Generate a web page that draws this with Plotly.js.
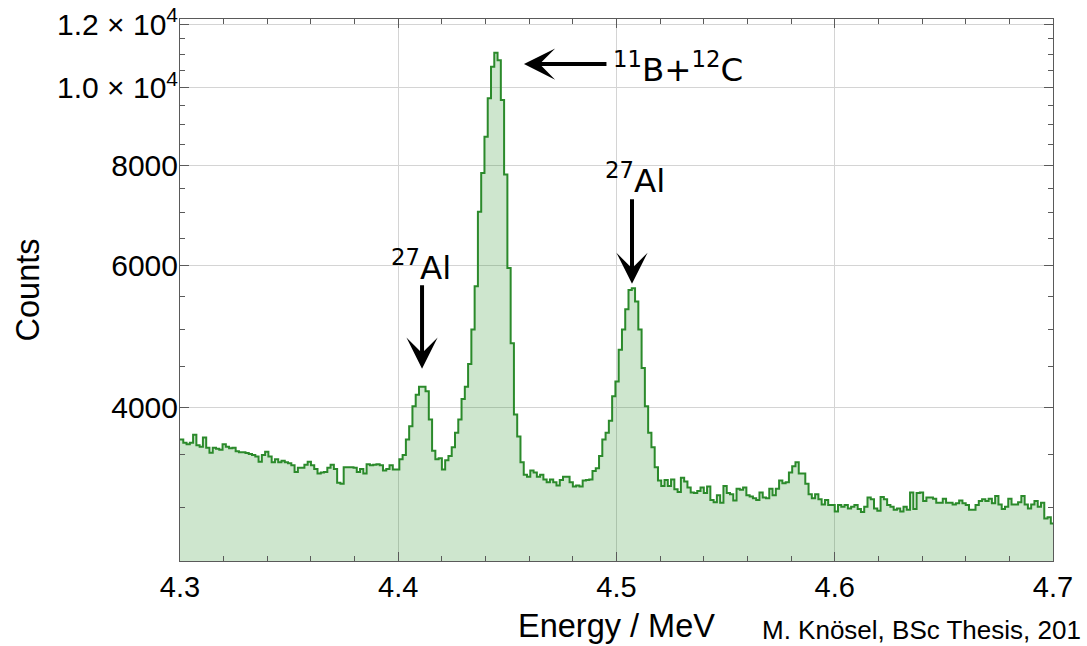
<!DOCTYPE html>
<html><head><meta charset="utf-8">
<script src="https://cdn.plot.ly/plotly-3.0.1.min.js"></script>
<style>html,body{margin:0;padding:0;background:#fff}</style>
</head><body><div id="chart" style="width:1087px;height:646px"></div>
<script>
// Histogram: energy bins (MeV) and counts
const energyStart = 4.3;
const binWidth = 0.0015;
const counts = [
3650,3615,3600,3615,3700,3590,3575,3670,3565,3515,
3565,3555,3545,3600,3575,3560,3565,3530,3520,3520,
3510,3500,3490,3475,3425,3490,3525,3475,3420,3450,
3420,3435,3420,3410,3390,3325,3365,3365,3395,3425,
3390,3355,3310,3320,3325,3365,3395,3355,3225,3215,
3370,3370,3370,3365,3325,3355,3310,3400,3390,3395,
3400,3390,3340,3355,3390,3350,
3350,3448,3490,3650,3790,4015,4150,4245,4245,4190,
3865,3535,3450,3460,3350,3440,3480,3570,3720,3865,
4100,4245,4530,5000,5660,7010,7830,8690,9700,10620,
11050,10820,9650,7800,5965,4810,3920,3680,3420,3300,
3280,3340,3320,3280,3300,3255,3230,3255,3230,3200,
3250,3280,3280,3230,3190,3200,3190,3245,3250,3255,
3335,3360,3480,3650,3720,3850,4130,4310,4720,5000,
5300,5600,5630,5420,5000,4480,4015,3720,3570,3370,
3245,3195,3250,3195,3255,3165,3140,
3270,3235,3180,3135,3130,3150,3180,3130,3190,3070,
3050,3110,3045,3195,3130,3120,3065,3170,3160,3180,
3110,3100,3085,3070,3135,3090,3085,3170,3110,3170,
3245,3220,3230,3320,3380,3420,3310,3310,3215,3120,
3085,3120,3075,3030,3070,3025,3025,2970,
3025,3010,3025,2995,3010,3025,2990,2965,3010,3090,
3075,2995,2975,3095,3075,3025,3010,2985,2995,2970,
3010,2985,3135,2990,3130,3135,3060,3090,3090,3080,
3045,3045,3080,3045,3045,3030,3040,3065,3040,3025,
2985,2985,3025,3060,3075,3060,3080,3040,3105,3030,
2990,3010,3080,3030,3030,3050,3105,3030,2995,3030,
3060,3010,3045,2910,2920,2870
];

const xTickVals = [4.3, 4.4, 4.5, 4.6, 4.7];
const xTickText = ['4.3', '4.4', '4.5', '4.6', '4.7'];
const yTickVals = [4000, 6000, 8000, 10000, 12000];
const yTickText = ['4000', '6000', '8000', '1.0 × 10<sup>4</sup>', '1.2 × 10<sup>4</sup>'];
const yMinorVals = [3000, 3500, 4500, 5000, 5500, 6500, 7000, 7500, 8500, 9000, 9500, 10500, 11000, 11500];

// Peak labels: [energy of arrow tip, counts at arrow tip]
const peakBC = [4.4576, 10700];
const peakAl1 = [4.4109, 4470];
const peakAl2 = [4.5071, 5700];

const edges = counts.map((_, i) => energyStart + i * binWidth);
edges.push(energyStart + counts.length * binWidth);
const ySteps = counts.concat([counts[counts.length - 1]]);

const trace = {
  x: edges, y: ySteps, type: 'scatter', mode: 'lines',
  line: {shape: 'hv', color: '#2b8a2b', width: 2},
  fill: 'tozeroy', fillcolor: 'rgba(34,139,34,0.22)',
  hoverinfo: 'skip'
};

const sans = 'Liberation Sans, Arial, sans-serif';
const axisCommon = {
  ticks: 'inside', tickcolor: '#5a5a5a', tickwidth: 1,
  showline: true, linecolor: '#5a5a5a', linewidth: 1, mirror: 'ticks',
  showgrid: true, gridcolor: '#d4d4d4', gridwidth: 1, zeroline: false,
  automargin: false
};

const lg = Math.log10;
const annFont = {family: 'DejaVu Sans, sans-serif', size: 32.5, color: '#000'};
function arrow(p, ax, ay) {
  return {x: p[0], y: lg(p[1]), xref: 'x', yref: 'y', text: '', showarrow: true,
    ax: ax, ay: ay, arrowhead: 3, arrowsize: 1.3, arrowwidth: 4, arrowcolor: '#000', standoff: 0, startstandoff: 0};
}

const layout = {
  width: 1087, height: 646,
  margin: {l: 180, r: 34, t: 19, b: 85, pad: 0},
  paper_bgcolor: '#fff', plot_bgcolor: '#fff',
  showlegend: false,
  font: {family: sans, color: '#000'},
  xaxis: Object.assign({}, axisCommon, {
    range: [4.3, 4.7], tickmode: 'array', tickvals: xTickVals, ticktext: xTickText, ticklen: 9,
    tickfont: {family: sans, size: 29, color: '#000'},
    minor: {tickmode: 'linear', tick0: 4.3, dtick: 0.02, ticks: 'inside', ticklen: 5, tickcolor: '#5a5a5a', showgrid: false},
    title: {text: 'Energy / MeV', font: {family: sans, size: 32.5, color: '#000'}, standoff: 12}
  }),
  yaxis: Object.assign({}, axisCommon, {
    type: 'log', range: [3.4111, 4.0854], tickmode: 'array', tickvals: yTickVals, ticktext: yTickText, ticklen: 9,
    tickfont: {family: sans, size: 30, color: '#000'}, ticklabelstandoff: -5,
    minor: {tickmode: 'array', tickvals: yMinorVals, ticks: 'inside', ticklen: 5, tickcolor: '#5a5a5a', showgrid: false},
    title: {text: 'Counts', font: {family: sans, size: 32.5, color: '#000'}, standoff: 7}
  }),
  annotations: [
    arrow(peakBC, 84, 0),
    arrow(peakAl1, 0, -85),
    arrow(peakAl2, 0, -86),
    {x: 4.4975, y: lg(10600), xref: 'x', yref: 'y', xanchor: 'left', yanchor: 'middle', showarrow: false,
      text: '<sup>11</sup>B+<sup>12</sup>C', font: annFont},
    {x: 4.4104, y: lg(6000), xref: 'x', yref: 'y', xanchor: 'center', yanchor: 'middle', showarrow: false,
      text: '<sup>27</sup>Al', font: annFont},
    {x: 4.5083, y: lg(7700), xref: 'x', yref: 'y', xanchor: 'center', yanchor: 'middle', showarrow: false,
      text: '<sup>27</sup>Al', font: annFont},
    {x: 0.6644, y: -0.128, xref: 'paper', yref: 'paper', xanchor: 'left', yanchor: 'middle', showarrow: false,
      text: 'M. Knösel, BSc Thesis, 201', font: {family: sans, size: 26, color: '#000'}}
  ]
};

Plotly.newPlot('chart', [trace], layout, {staticPlot: true, displayModeBar: false});
</script>
</body></html>
